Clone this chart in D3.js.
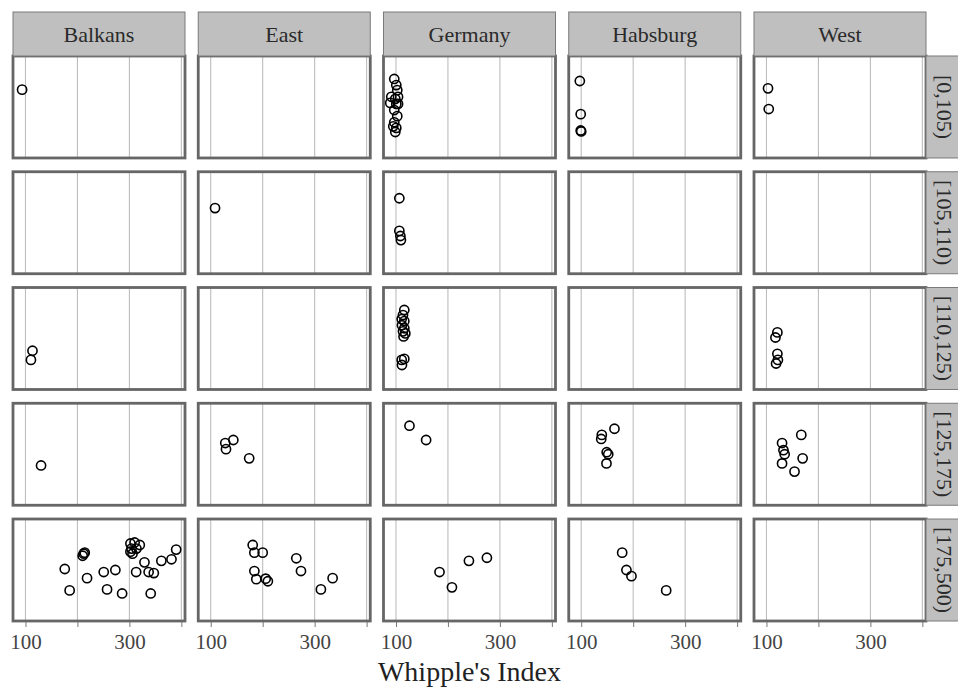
<!DOCTYPE html>
<html>
<head>
<meta charset="utf-8">
<script src="https://cdn.jsdelivr.net/npm/d3@7"></script>
<style>
  body { margin: 0; background: #fff; }
  svg { display: block; }
  svg text { font-family: "Liberation Serif", "Times New Roman", serif; }
</style>
</head>
<body>
<svg id="chart" width="958" height="687"></svg>
<script>
// Facet columns (region) and facet rows (Whipple's index band)
const regions = ["Balkans", "East", "Germany", "Habsburg", "West"];
const bands = ["[0,105)", "[105,110)", "[110,125)", "[125,175)", "[175,500)"];

// x axis ticks
const xTicks = [100, 200, 300, 400];
const xTickLabels = ["100", "", "300", ""];
const xTitle = "Whipple's Index";

// Each point: [band index, Whipple's index, vertical jitter (0 = top, 1 = bottom)]
const balkans = [
  [0, 93.5, 0.33],
  [2, 113.5, 0.62], [2, 110.5, 0.71],
  [3, 130, 0.61],
  [4, 175.6, 0.49], [4, 185, 0.70], [4, 210, 0.36], [4, 212, 0.34], [4, 214, 0.33],
  [4, 218.5, 0.58], [4, 250.6, 0.52], [4, 257, 0.69], [4, 273, 0.50], [4, 286, 0.73],
  [4, 302, 0.24], [4, 310, 0.23], [4, 320, 0.255], [4, 304, 0.29], [4, 313.5, 0.29],
  [4, 306, 0.34], [4, 302, 0.32], [4, 313, 0.52], [4, 329, 0.425], [4, 337, 0.52],
  [4, 347, 0.53], [4, 341, 0.73], [4, 361.5, 0.41], [4, 381, 0.395], [4, 390, 0.30]
];
const east = [
  [1, 108.3, 0.356],
  [3, 128, 0.39], [3, 143.5, 0.36], [3, 129.4, 0.45], [3, 174, 0.54],
  [4, 180.8, 0.255], [4, 184, 0.33], [4, 200, 0.33], [4, 184, 0.51], [4, 187.7, 0.59],
  [4, 205.7, 0.585], [4, 210, 0.61], [4, 264.7, 0.385], [4, 273.7, 0.51],
  [4, 312, 0.69], [4, 334.6, 0.58]
];
const germany = [
  [0, 96.7, 0.225], [0, 100.6, 0.285], [0, 102.5, 0.335], [0, 91, 0.40], [0, 98.7, 0.42],
  [0, 104, 0.40], [0, 89, 0.46], [0, 100.6, 0.47], [0, 104, 0.47], [0, 96.7, 0.53],
  [0, 102.5, 0.59], [0, 96.7, 0.65], [0, 94.8, 0.69], [0, 100.6, 0.705], [0, 98.7, 0.745],
  [1, 106.5, 0.26], [1, 106.5, 0.58], [1, 108.5, 0.63], [1, 109.5, 0.67],
  [2, 116, 0.22], [2, 113.5, 0.27], [2, 111, 0.31], [2, 116, 0.33], [2, 111.5, 0.37],
  [2, 116, 0.40], [2, 113.5, 0.43], [2, 118, 0.45], [2, 114.6, 0.48], [2, 111, 0.71],
  [2, 116, 0.70], [2, 111.5, 0.76],
  [3, 126, 0.22], [3, 158, 0.36],
  [4, 183.8, 0.52], [4, 207.7, 0.67], [4, 240.4, 0.41], [4, 275, 0.38]
];
const habsburg = [
  [0, 97.3, 0.245], [0, 99, 0.57], [0, 99, 0.73], [0, 100, 0.74],
  [3, 164, 0.25], [3, 139.6, 0.31], [3, 138.5, 0.35], [3, 149, 0.48], [3, 152, 0.50],
  [3, 148.6, 0.59],
  [4, 178.8, 0.33], [4, 187, 0.50], [4, 196.7, 0.56], [4, 263.5, 0.70]
];
const west = [
  [0, 103, 0.317], [0, 104.4, 0.52],
  [2, 121, 0.44], [2, 117.3, 0.49], [2, 121, 0.65], [2, 122, 0.71], [2, 118.5, 0.745],
  [3, 167, 0.31], [3, 130, 0.39], [3, 132.7, 0.46], [3, 135, 0.50], [3, 130, 0.59],
  [3, 169.6, 0.54], [3, 154, 0.67]
];
const pointsByRegion = { Balkans: balkans, East: east, Germany: germany, Habsburg: habsburg, West: west };

const serif = "Liberation Serif, Times New Roman, serif";
const svg = d3.select("#chart");

const col = d3.scaleBand().domain(regions).range([13, 926]).paddingInner(0.0715);
const row = d3.scaleBand().domain(bands).range([56, 621]).paddingInner(0.119);
const x = d3.scaleLinear().domain([76, 407]).range([0, col.bandwidth()]);
const y = d3.scaleLinear().domain([0, 1]).range([0, row.bandwidth()]);

const stripFill = "#bfbfbf";
const stripStroke = "#7a7a7a";
const panelStroke = "#666";
const gridColor = "#bdbdbd";

// Panels
regions.forEach(region => {
  bands.forEach((band, bi) => {
    const g = svg.append("g")
      .attr("transform", `translate(${col(region)},${row(band)})`);
    g.append("rect")
      .attr("width", col.bandwidth()).attr("height", row.bandwidth())
      .attr("fill", "#fff");
    g.selectAll("line.grid")
      .data(xTicks.filter(t => x(t) < col.bandwidth() - 2))
      .join("line")
      .attr("class", "grid")
      .attr("x1", d => x(d)).attr("x2", d => x(d))
      .attr("y1", 0).attr("y2", row.bandwidth())
      .attr("stroke", gridColor).attr("stroke-width", 1.1);
    g.selectAll("circle")
      .data(pointsByRegion[region].filter(p => p[0] === bi))
      .join("circle")
      .attr("cx", d => x(d[1]))
      .attr("cy", d => y(d[2]))
      .attr("r", 4.6)
      .attr("fill", "none")
      .attr("stroke", "#000")
      .attr("stroke-width", 1.6);
    g.append("rect")
      .attr("width", col.bandwidth()).attr("height", row.bandwidth())
      .attr("fill", "none")
      .attr("stroke", panelStroke).attr("stroke-width", 2.8);
  });
});

// Column strips
const topStrip = { y: 12, h: 44 };
regions.forEach(region => {
  svg.append("rect")
    .attr("x", col(region)).attr("y", topStrip.y)
    .attr("width", col.bandwidth()).attr("height", topStrip.h)
    .attr("fill", stripFill).attr("stroke", stripStroke).attr("stroke-width", 1);
  svg.append("text")
    .attr("x", col(region) + col.bandwidth() / 2)
    .attr("y", topStrip.y + topStrip.h / 2 + 7.5)
    .attr("text-anchor", "middle")
    .attr("font-family", serif)
    .attr("font-size", 22)
    .attr("fill", "#2a2a2a")
    .text(region);
});

// Row strips on the right
const rightX = 926, rightW = 40;
bands.forEach(band => {
  svg.append("rect")
    .attr("x", rightX).attr("y", row(band))
    .attr("width", rightW).attr("height", row.bandwidth())
    .attr("fill", stripFill).attr("stroke", stripStroke).attr("stroke-width", 1);
  const cx = rightX + 19, cy = row(band) + row.bandwidth() / 2;
  svg.append("text")
    .attr("transform", `translate(${cx},${cy}) rotate(90)`)
    .attr("text-anchor", "middle")
    .attr("dy", "0.35em")
    .attr("font-family", serif)
    .attr("font-size", 22)
    .attr("fill", "#2a2a2a")
    .text(band);
});

// Bottom axes
const bottom = row(bands[bands.length - 1]) + row.bandwidth();
regions.forEach(region => {
  const ax = svg.append("g")
    .attr("transform", `translate(${col(region)},${bottom + 1})`)
    .call(d3.axisBottom(x)
      .tickValues(xTicks)
      .tickFormat((d, i) => xTickLabels[i])
      .tickSize(5)
      .tickPadding(7));
  ax.attr("font-family", serif);
  ax.select(".domain").remove();
  ax.selectAll(".tick line").attr("stroke", "#777").attr("stroke-width", 1);
  ax.selectAll(".tick text")
    .attr("font-family", serif)
    .attr("font-size", 21)
    .attr("fill", "#444");
});

// Axis title
svg.append("text")
  .attr("x", (col(regions[0]) + col(regions[regions.length - 1]) + col.bandwidth()) / 2)
  .attr("y", 681)
  .attr("text-anchor", "middle")
  .attr("font-family", serif)
  .attr("font-size", 28)
  .attr("fill", "#222")
  .text(xTitle);
</script>
</body>
</html>
